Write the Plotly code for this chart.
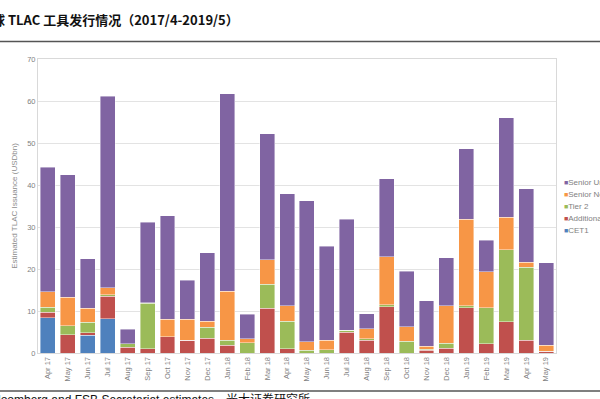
import plotly.graph_objects as go

categories = ["Apr 17", "May 17", "Jun 17", "Jul 17", "Aug 17", "Sep 17", "Oct 17", "Nov 17",
              "Dec 17", "Jan 18", "Feb 18", "Mar 18", "Apr 18", "May 18", "Jun 18", "Jul 18",
              "Aug 18", "Sep 18", "Oct 18", "Nov 18", "Dec 18", "Jan 19", "Feb 19", "Mar 19",
              "Apr 19", "May 19"]

cet1 = [8.4, 0, 4.2, 8.1, 0, 0, 0, 0, 0, 0, 0, 0, 0, 0, 0, 0, 0, 0, 0, 0, 0, 0, 0, 0, 0, 0]
additional_t1 = [1.3, 4.4, 0.6, 5.4, 1.4, 1.0, 3.9, 3.0, 3.5, 1.9, 0, 10.7, 1.0, 0, 0, 5.0,
                 3.0, 11.0, 0, 0.6, 1.1, 10.8, 2.2, 7.4, 3.0, 0.4]
tier2 = [1.2, 2.1, 2.5, 0.4, 0.8, 10.8, 0, 0, 2.6, 1.1, 2.4, 5.7, 6.6, 0.7, 0.8, 0.4,
         0.4, 0.5, 2.8, 0.3, 1.2, 0.5, 8.6, 17.2, 17.4, 0]
senior_np = [3.7, 6.8, 3.3, 1.6, 0, 0.2, 4.1, 5.0, 1.5, 11.7, 1.0, 5.8, 3.7, 2.0, 2.2, 0,
             2.4, 11.4, 3.4, 0.7, 9.0, 20.6, 8.5, 7.7, 1.2, 1.5]
senior_u = [29.6, 29.2, 11.9, 45.6, 3.4, 19.1, 24.7, 9.3, 16.3, 47.0, 5.8, 30.0, 26.6, 33.6,
            22.4, 26.5, 3.6, 18.6, 13.3, 10.9, 11.4, 16.7, 7.5, 23.7, 17.5, 19.6]

series_names = ["CET1", "Additional Tier 1", "Tier 2", "Senior Non-preferred", "Senior Unsecured"]
series_values = [cet1, additional_t1, tier2, senior_np, senior_u]
series_colors = ["#4F81BD", "#C0504D", "#9BBB59", "#F79646", "#8064A2"]

y_ticks = [0, 10, 20, 30, 40, 50, 60, 70]

fig = go.Figure()
for name, vals, col in zip(series_names, series_values, series_colors):
    fig.add_trace(go.Bar(x=categories, y=vals, name=name, marker_color=col,
                         marker_line=dict(color="rgba(255,255,255,0.7)", width=0.6),
                         showlegend=False))

W, H = 600, 399
L, R, T, B = 38, 44, 59, 46
pw, ph = W - L - R, H - T - B


def px_x(p):
    return (p - L) / pw


def px_y(p):
    return (H - B - p) / ph


annotations = []
for i, (name, col) in enumerate(zip(reversed(series_names), reversed(series_colors))):
    annotations.append(dict(
        xref="paper", yref="paper", x=px_x(562), y=px_y(182 + 12 * i),
        xanchor="left", yanchor="middle", showarrow=False,
        text=f'<span style="color:{col};font-size:7px">■</span>{name}',
        font=dict(family="Liberation Sans, Arial", size=8, color="#7f7f7f")))

annotations.append(dict(
    xref="paper", yref="paper", x=px_x(-23), y=px_y(20), xanchor="left", yanchor="middle",
    showarrow=False, text="<b>全球 TLAC 工具发行情况（2017/4-2019/5）</b>",
    font=dict(family="Noto Sans CJK SC, Liberation Sans", size=13, color="#111111")))

annotations.append(dict(
    xref="paper", yref="paper", x=px_x(-12), y=px_y(390), xanchor="left", yanchor="top",
    showarrow=False, text="Bloomberg and FSB Secretariat estimates，光大证券研究所",
    font=dict(family="Liberation Sans, Noto Sans CJK SC", size=12, color="#111111")))

shapes = [
    dict(type="line", xref="paper", yref="paper", x0=px_x(0), x1=px_x(600),
         y0=px_y(41.5), y1=px_y(41.5), line=dict(color="#555555", width=1.5)),
    dict(type="line", xref="paper", yref="paper", x0=px_x(0), x1=px_x(600),
         y0=px_y(391), y1=px_y(391), line=dict(color="#555555", width=1.5)),
]

fig.update_layout(
    width=W, height=H, barmode="stack", bargap=0.25,
    margin=dict(l=L, r=R, t=T, b=B, autoexpand=False),
    paper_bgcolor="white", plot_bgcolor="white",
    annotations=annotations, shapes=shapes,
    font=dict(family="Liberation Sans, Arial", color="#7f7f7f"),
    xaxis=dict(tickangle=-90, tickfont=dict(size=7.5, color="#7f7f7f"),
               showline=True, linecolor="#d9d9d9", linewidth=1, mirror=True,
               ticks="", showgrid=False),
    yaxis=dict(range=[0, 70], tickvals=y_ticks, tickfont=dict(size=7.5, color="#7f7f7f"),
               showgrid=True, gridcolor="#e3e3e3", gridwidth=1,
               showline=True, linecolor="#d9d9d9", linewidth=1, mirror=True,
               zeroline=False, ticks="",
               title=dict(text="Estimated TLAC Issuance (USDbn)",
                          font=dict(size=8, color="#8c8c8c"), standoff=8)),
)

fig.write_html("out.html", config={"displayModeBar": False},
               post_script="document.body.style.margin='0';document.body.style.overflow='hidden';")
